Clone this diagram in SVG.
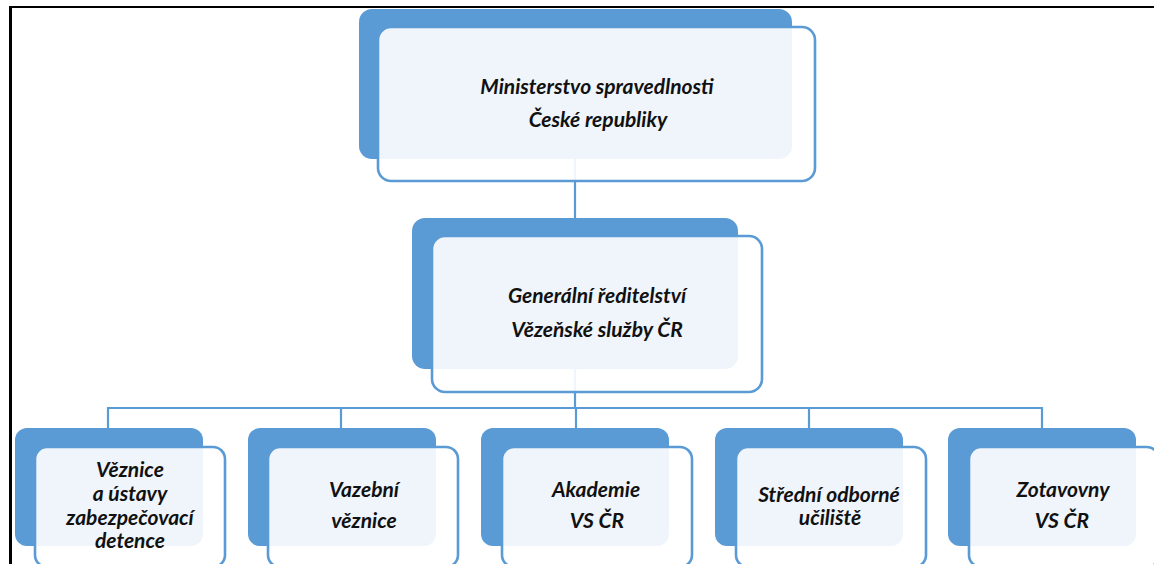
<svg xmlns="http://www.w3.org/2000/svg" width="1154" height="564" viewBox="0 0 1154 564">
<style>
.back{fill:#5B9BD5}
.front{fill:#ffffff;fill-opacity:0.9;stroke:#5B9BD5;stroke-width:2.6}
.conn{fill:none;stroke:#5B9BD5;stroke-width:2.2}
.t{font-family:Lato,"Open Sans","Liberation Sans",sans-serif;font-weight:bold;font-style:italic;font-size:21px;fill:#111;text-anchor:middle}
</style>
<rect x="0" y="0" width="1154" height="564" fill="#ffffff"/>
<g id="frame" stroke="#000" fill="none">
<line x1="9" y1="7" x2="1154" y2="7" stroke-width="2"/>
<line x1="10.5" y1="6" x2="10.5" y2="564" stroke-width="3"/>
</g>
<g id="connectors">
<path class="conn" d="M575 158 V218"/>
<path class="conn" d="M575 368 V408"/>
<path class="conn" d="M108 428 V408 H1042 V428"/>
<path class="conn" d="M341 408 V428 M576 408 V428 M809 408 V428"/>
</g>
<g id="n-ministerstvo">
<rect class="back" x="359" y="9" width="433" height="150" rx="13"/>
<rect class="front" x="378" y="27" width="437" height="154" rx="13"/>
<text class="t" x="597" y="94">Ministerstvo spravedlnosti</text>
<text class="t" x="598" y="127">České republiky</text>
</g>
<g id="n-gr">
<rect class="back" x="412" y="218" width="326" height="151" rx="13"/>
<rect class="front" x="432" y="236" width="330" height="156" rx="13"/>
<text class="t" x="597" y="303">Generální ředitelství</text>
<text class="t" x="597" y="337">Vězeňské služby ČR</text>
</g>
<g id="n-veznice">
<rect class="back" x="15" y="428" width="188" height="118" rx="12"/>
<rect class="front" x="35" y="447" width="190" height="120" rx="12"/>
<text class="t" x="130" y="477">Věznice</text>
<text class="t" x="130" y="501">a ústavy</text>
<text class="t" x="130" y="525">zabezpečovací</text>
<text class="t" x="130" y="548">detence</text>
</g>
<g id="n-vazebni">
<rect class="back" x="248" y="428" width="188" height="118" rx="12"/>
<rect class="front" x="268" y="447" width="190" height="120" rx="12"/>
<text class="t" x="364" y="497">Vazební</text>
<text class="t" x="364" y="528">věznice</text>
</g>
<g id="n-akademie">
<rect class="back" x="481" y="428" width="188" height="118" rx="12"/>
<rect class="front" x="502" y="447" width="190" height="120" rx="12"/>
<text class="t" x="596" y="497">Akademie</text>
<text class="t" x="597" y="528">VS ČR</text>
</g>
<g id="n-sou">
<rect class="back" x="715" y="428" width="188" height="118" rx="12"/>
<rect class="front" x="736" y="447" width="190" height="120" rx="12"/>
<text class="t" x="829" y="502">Střední odborné</text>
<text class="t" x="830" y="525">učiliště</text>
</g>
<g id="n-zotavovny">
<rect class="back" x="948" y="428" width="188" height="118" rx="12"/>
<rect class="front" x="969" y="447" width="190" height="120" rx="12"/>
<text class="t" x="1063" y="497">Zotavovny</text>
<text class="t" x="1062" y="528">VS ČR</text>
</g>
</svg>
